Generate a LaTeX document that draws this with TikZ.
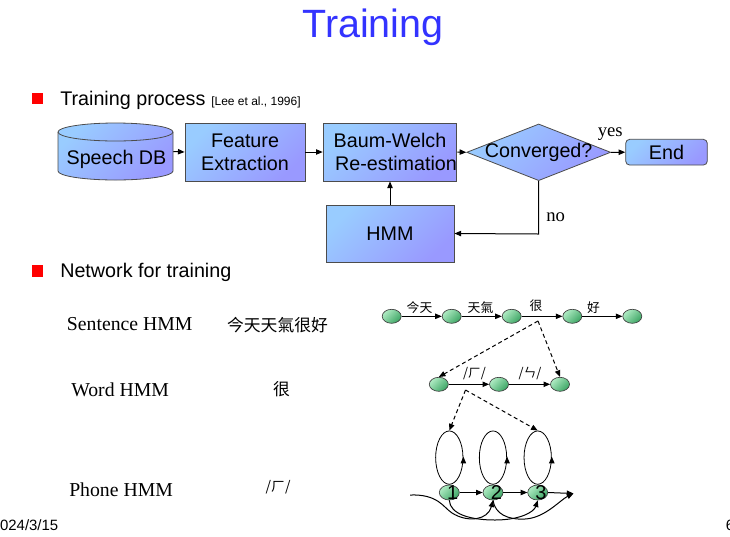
\documentclass[tikz,border=0pt]{standalone}
\usepackage{fontspec}
\setmainfont{Liberation Serif}
\setsansfont{Liberation Sans}
\newfontfamily\cjk{Noto Sans CJK TC}
\usetikzlibrary{arrows.meta,shapes.geometric,calc}
\definecolor{boxlight}{RGB}{153,204,255}
\definecolor{boxdark}{RGB}{153,153,255}
\definecolor{grnlight}{RGB}{175,235,195}
\definecolor{grndark}{RGB}{60,165,100}
\definecolor{titleblue}{RGB}{51,51,255}
\definecolor{bulletred}{RGB}{255,0,0}
\begin{document}
\begin{tikzpicture}[x=0.75pt,y=-0.75pt,
  tip/.style={-{Triangle[length=5pt,width=4pt]}, line width=0.75pt},
  dtip/.style={tip, dash pattern=on 3pt off 2.2pt},
  bluebox/.style={draw=black!70, line width=0.6pt, top color=boxlight, bottom color=boxdark, shading angle=45},
  boxtext/.style={align=center, font=\sffamily\fontsize{14.8}{17.5}\selectfont, inner sep=0},
  hmmstate/.style={ellipse, draw=black!75, line width=0.5pt, top color=grnlight, bottom color=grndark, shading angle=45, inner sep=0, minimum width=14.25pt, minimum height=10.5pt},
  phstate/.style={hmmstate, minimum width=15pt, minimum height=11.25pt},
  loopnode/.style={ellipse, draw, line width=0.6pt, inner sep=0, minimum width=20.5pt, minimum height=40pt},
  bullet/.style={fill=bulletred, inner sep=0, minimum size=8.5pt},
  btext/.style={font=\sffamily\fontsize{14.8}{17}\selectfont, anchor=base west, inner sep=0},
  lbl/.style={font=\rmfamily\fontsize{14.8}{17}\selectfont, anchor=base west, inner sep=0},
  cjklbl/.style={font=\cjk\fontsize{9.6}{11}\selectfont, inner sep=0},
  cjkbig/.style={font=\cjk\fontsize{12.6}{14}\selectfont, inner sep=0},
  ylbl/.style={font=\rmfamily\fontsize{14}{16}\selectfont, inner sep=0},
  numlbl/.style={font=\sffamily\fontsize{15}{16}\selectfont, inner sep=0, xshift=2.5pt}
]
\useasboundingbox (0,0) rectangle (730,536);
\fill[white] (0,0) rectangle (730,536);

% title
\node[font=\sffamily\fontsize{29.6}{34}\selectfont, text=titleblue, anchor=base, inner sep=0] (title) at (373,37) {Training};

% bullets
\node[bullet] (b1) at (37.5,98.7) {};
\node[btext] (t1) at (60,105) {Training process};
\node[font=\sffamily\fontsize{9}{10}\selectfont, anchor=base west, inner sep=0] (cite) at (211,105) {[Lee et al., 1996]};
\node[bullet] (b2) at (37.5,271) {};
\node[btext] (t2) at (60,277) {Network for training};

% speech DB cylinder
\draw[bluebox] (58,132) -- (58,171) arc[start angle=180, end angle=0, x radius=57.5, y radius=9] -- (173,132) arc[start angle=0, end angle=-180, x radius=57.5, y radius=9] -- cycle;
\draw[draw=black!70, line width=0.6pt] (58,132) arc[start angle=180, end angle=0, x radius=57.5, y radius=9];
\node[minimum width=86.25pt, minimum height=42.75pt, inner sep=0] (db) at (115.5,151.5) {};
\node[boxtext] (dbt) at (116.5,159.5) {Speech DB};

% boxes
\node[bluebox, boxtext, minimum width=90pt, minimum height=43.5pt] (fe) at (245,152) {Feature\\Extraction};
\node[bluebox, boxtext, minimum width=97.5pt, minimum height=43.5pt] (bw) at (390,152) {Baum-Welch\\\hspace*{9pt}Re-estimation};
\node[diamond, bluebox, minimum width=108pt, minimum height=42.5pt, inner sep=0] (cv) at (538.7,152.3) {};
\node[boxtext] (cvt) at (538.7,152.8) {Converged?};
\node[bluebox, boxtext, rounded corners=3pt, minimum width=61.2pt, minimum height=19.3pt] (end) at (666.5,152.2) {End};
\node[bluebox, boxtext, minimum width=96pt, minimum height=42.75pt] (hmm) at (390,233.5) {HMM};
\coordinate (corner) at (538.7,234);

\draw[tip] (db.east) -- (fe.west);
\draw[tip] (fe.east) -- (bw.west);
\draw[tip] (bw.east) -- (cv.west);
\draw[tip] (cv.east) -- (end.west);
\draw[tip] (hmm.north) -- (bw.south);
\draw[tip] (cv.south) -- (corner) -- (hmm.east);
\node[ylbl, anchor=base west] (yes) at (597.5,136.7) {yes};
\node[ylbl, anchor=base west] (no) at (546,221.7) {no};

% left labels
\node[lbl] (sl) at (66.7,330) {Sentence HMM};
\node[lbl] (wl) at (71,396) {Word HMM};
\node[lbl] (pl) at (69,496.7) {Phone HMM};
\node[cjkbig] (sc) at (277.5,325) {今天天氣很好};
\node[cjkbig] (wc) at (281.5,389.5) {很};
\node[font=\cjk\fontsize{10.5}{12}\selectfont, inner sep=0] (pc) at (278,486.7) {/ㄏ/};

% sentence network
\node[hmmstate] (n1) at (391.7,316.3) {};
\node[hmmstate] (n2) at (451.7,316.3) {};
\node[hmmstate] (n3) at (511.7,316.3) {};
\node[hmmstate] (n4) at (572.3,316.3) {};
\node[hmmstate] (n5) at (632.3,316.3) {};
\draw[tip] (n1) -- (n2);
\draw[tip] (n2) -- (n3);
\draw[tip] (n3) -- (n4);
\draw[tip] (n4) -- (n5);
\node[cjklbl] (a1) at (419.5,308) {今天};
\node[cjklbl] (a2) at (480.5,308) {天氣};
\node[cjklbl] (a3) at (536,306) {很};
\node[cjklbl] (a4) at (593.5,308) {好};
\coordinate (hen) at (538,321);

% word network
\node[hmmstate] (w1) at (438.8,384.3) {};
\node[hmmstate] (w2) at (499,384.3) {};
\node[hmmstate] (w3) at (560,384.3) {};
\draw[tip] (w1) -- (w2);
\draw[tip] (w2) -- (w3);
\node[cjklbl] (p1) at (474.5,374) {/ㄏ/};
\node[cjklbl] (p2) at (530,374) {/ㄣ/};
\draw[dtip] (hen) -- (w1.north);
\draw[dtip] (hen) -- (w3.north);
\coordinate (hph) at (465.5,390);

% phone network
\node[phstate, label={[numlbl]center:1}] (s1) at (449.3,492.5) {};
\node[phstate, label={[numlbl]center:2}] (s2) at (493,492.5) {};
\node[phstate, label={[numlbl]center:3}] (s3) at (537.7,492.5) {};
\node[loopnode, anchor=south] (l1) at (s1.north) {};
\node[loopnode, anchor=south] (l2) at (s2.north) {};
\node[loopnode, anchor=south] (l3) at (s3.north) {};
\foreach \l in {l1,l2,l3} {
  \draw[tip] ($(\l.east)+(0,3)$) -- ($(\l.east)+(0,-1)$);
}
\draw[dtip] (hph) -- (l1.north);
\draw[dtip] (hph) -- (l3.north);
\coordinate (entry) at (410,495);
\coordinate (exit) at (573.5,493.5);
\draw[tip] (s1) -- (s2);
\draw[tip] (s2) -- (s3);
\draw[tip] (s3.east) -- (exit);
\draw[tip] (entry) .. controls (438,494) and (443,507) .. (452,513) .. controls (468,523) and (488,520) .. (s2.south);
\draw[tip] (s1.south) .. controls (450,514) and (470,520) .. (495,520) .. controls (520,520) and (534,512) .. (s3.south);
\draw[tip] (s2.south) .. controls (495,514) and (508,520) .. (525,519) .. controls (545,518) and (560,500) .. (exit);

% footer
\node[font=\sffamily\fontsize{11.2}{13}\selectfont, anchor=base east, inner sep=0] (date) at (58.5,530) {2024/3/15};
\node[font=\sffamily\fontsize{11.2}{13}\selectfont, anchor=base west, inner sep=0] (page) at (725.7,530) {6};
\end{tikzpicture}
\end{document}
